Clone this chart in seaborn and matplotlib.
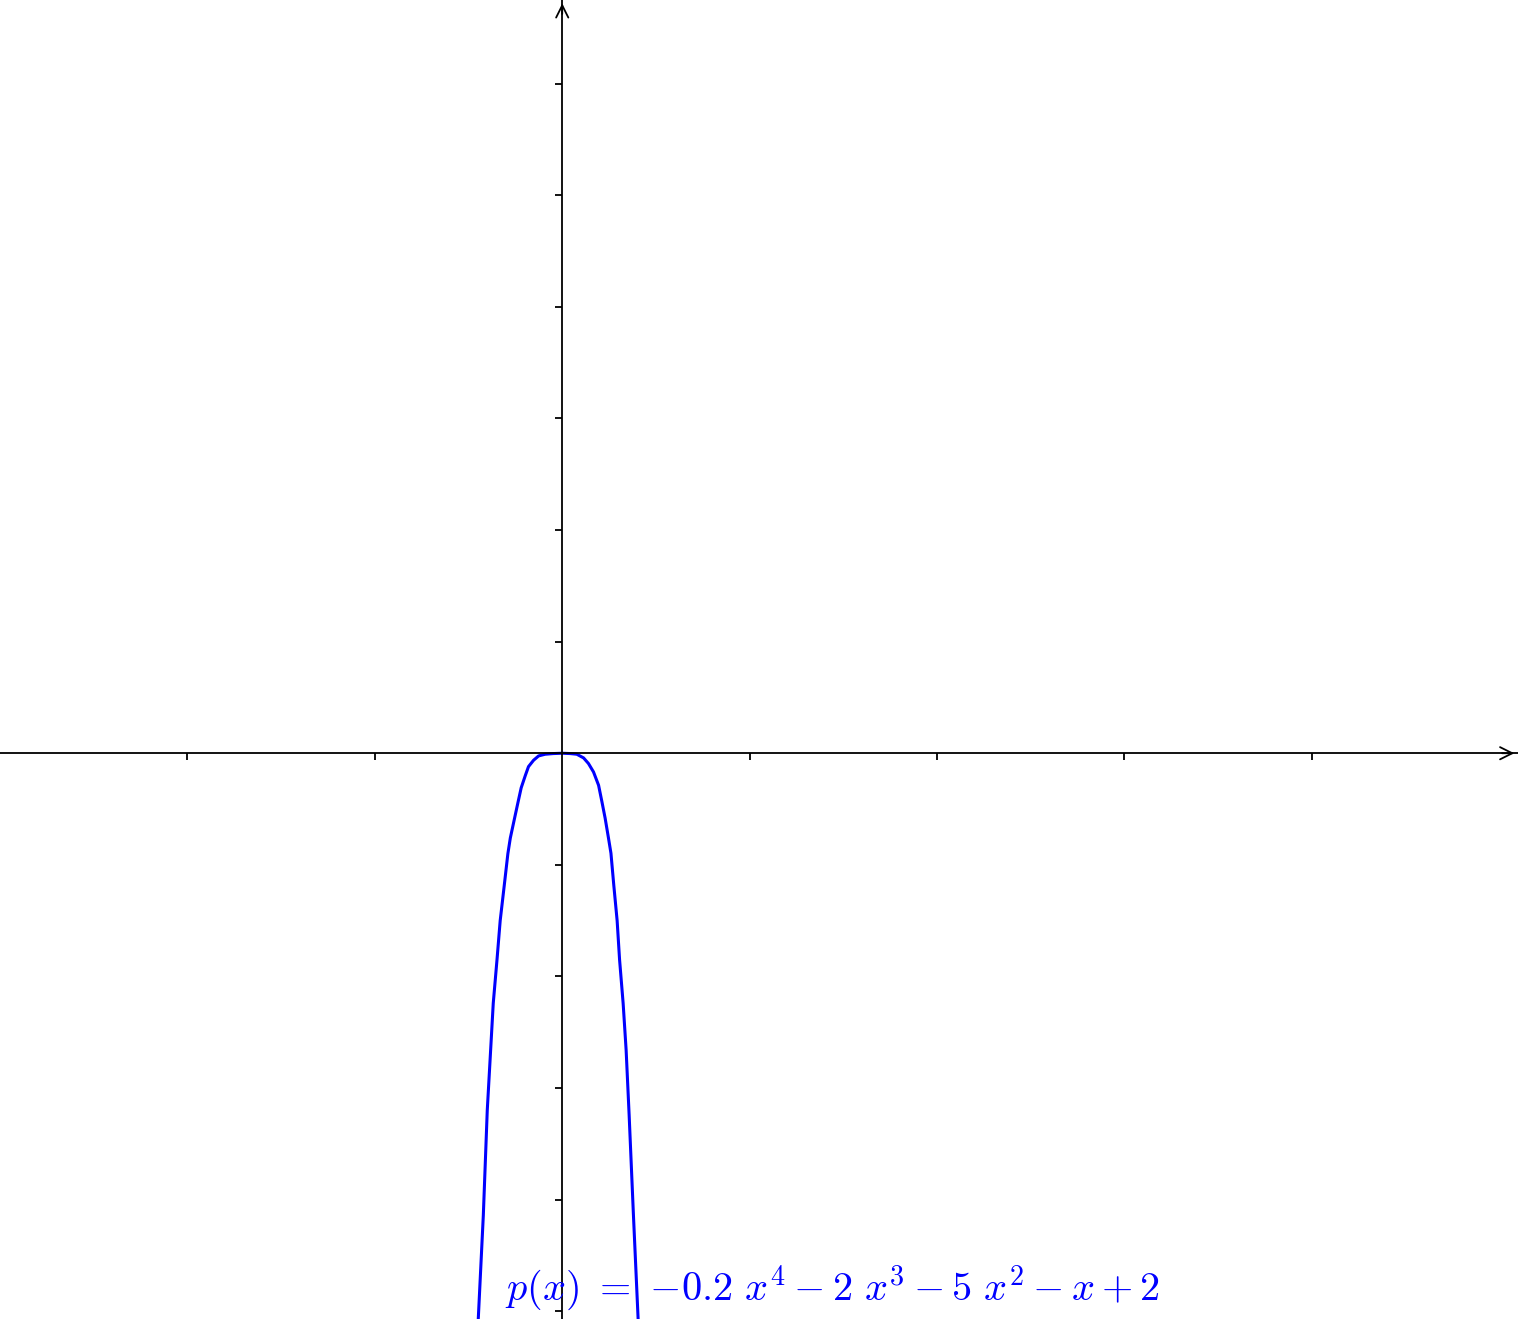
import matplotlib
matplotlib.use("Agg")
import matplotlib.pyplot as plt
import seaborn as sns
import pandas as pd

sns.set_style("white")
plt.rcParams['mathtext.fontset'] = 'cm'

# curve points (x in x-tick units, y in y-tick units)
curve_x = [-0.448, -0.421, -0.400, -0.382, -0.368, -0.348, -0.331, -0.309, -0.290, -0.277,
           -0.254, -0.236, -0.219, -0.197, -0.180, -0.153, -0.126, -0.091, -0.048, 0.0,
           0.043, 0.078, 0.114, 0.140, 0.167, 0.194, 0.212, 0.229, 0.247, 0.260,
           0.275, 0.293, 0.306, 0.325, 0.341, 0.357, 0.380, 0.405]
curve_y = [-5.07, -4.14, -3.20, -2.66, -2.24, -1.85, -1.50, -1.18, -0.90, -0.76,
           -0.58, -0.44, -0.31, -0.20, -0.12, -0.063, -0.024, -0.009, -0.003, 0.0,
           -0.003, -0.009, -0.042, -0.092, -0.168, -0.287, -0.436, -0.582, -0.762, -0.896,
           -1.18, -1.50, -1.85, -2.24, -2.66, -3.24, -4.14, -5.07]
x_ticks = [-2, -1, 1, 2, 3, 4]
y_ticks = [-5, -4, -3, -2, -1, 1, 2, 3, 4, 5, 6]
label = r'$p(x)\ =\ {-}0.2\ x^4 - 2\ x^3 - 5\ x^2 - x + 2$'

df = pd.DataFrame({"x": curve_x, "y": curve_y})

fig = plt.figure(figsize=(15.18, 13.19), dpi=100)
ax = fig.add_axes([0, 0, 1, 1])
ax.set_xlim(-3.0, 5.1)
ax.set_ylim(-5.07, 6.75)

sns.lineplot(data=df, x="x", y="y", sort=False, estimator=None, color="#0000FF",
             linewidth=2.2, ax=ax)

for s in ["top", "right"]:
    ax.spines[s].set_visible(False)
ax.spines["left"].set_position(("data", 0))
ax.spines["bottom"].set_position(("data", 0))
for s in ["left", "bottom"]:
    ax.spines[s].set_linewidth(1.3)
    ax.spines[s].set_color("black")
ax.set_xticks(x_ticks)
ax.set_yticks(y_ticks)
ax.set_xticklabels([])
ax.set_yticklabels([])
ax.tick_params(direction="out", length=5, width=1.3, color="black",
               bottom=True, left=True)
ax.set_xlabel("")
ax.set_ylabel("")

ax.annotate("", xy=(5.095, 0), xytext=(5.0, 0),
            arrowprops=dict(arrowstyle="->", lw=1.3, color="black", mutation_scale=22))
ax.annotate("", xy=(0, 6.745), xytext=(0, 6.6),
            arrowprops=dict(arrowstyle="->", lw=1.3, color="black", mutation_scale=22))

ax.text(-0.304, -4.90, label, color="#0000FF", fontsize=29, ha="left", va="baseline")

fig.savefig("out.png", dpi=100)
